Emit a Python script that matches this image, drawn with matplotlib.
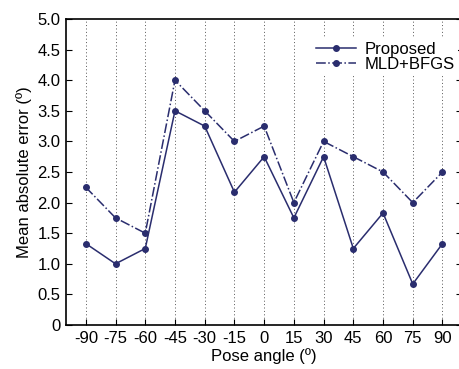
import matplotlib
matplotlib.use("Agg")
import matplotlib.pyplot as plt

plt.rcParams['font.family'] = ['Liberation Sans', 'DejaVu Sans']

angles = [-90, -75, -60, -45, -30, -15, 0, 15, 30, 45, 60, 75, 90]
proposed = [1.33, 1.0, 1.25, 3.5, 3.25, 2.17, 2.75, 1.75, 2.75, 1.25, 1.83, 0.67, 1.33]
mld_bfgs = [2.25, 1.75, 1.5, 4.0, 3.5, 3.0, 3.25, 2.0, 3.0, 2.75, 2.5, 2.0, 2.5]
yticks = [0, 0.5, 1.0, 1.5, 2.0, 2.5, 3.0, 3.5, 4.0, 4.5, 5.0]
ytick_labels = ['0'] + ['%.1f' % v for v in yticks[1:]]

color = '#2a2d6e'
fig = plt.figure(figsize=(4.6, 3.69), dpi=100)
ax = fig.add_axes([66/460, 1 - 325/369, (460 - 66) / 460 + 0.005, (325 - 19) / 369])

ax.plot(angles, proposed, '-', color=color, marker='o', markersize=4, lw=1.1, label='Proposed')
ax.plot(angles, mld_bfgs, '-.', color=color, marker='o', markersize=4, lw=1.1, label='MLD+BFGS')

ax.set_xlim(-100, 100)
ax.set_ylim(0, 5)
ax.set_xticks(angles)
ax.set_xticklabels([str(a) for a in angles])
ax.set_yticks(yticks)
ax.set_yticklabels(ytick_labels)
for a in angles:
    ax.axvline(a, color='#555555', ls=(0, (1, 2.5)), lw=0.7, zorder=0)

ax.tick_params(direction='in', top=False, right=True, labelsize=12, length=4, pad=4)
for s in ax.spines.values():
    s.set_linewidth(1.2)
ax.set_xlabel('Pose angle (º)', fontsize=12, labelpad=2)
ax.set_ylabel('Mean absolute error (º)', fontsize=12, labelpad=4)
leg = ax.legend(loc='upper right', frameon=True, fontsize=12, handlelength=2.4,
                borderaxespad=0.6, labelspacing=0.0, handletextpad=0.5,
                borderpad=0.2, fancybox=False, framealpha=1,
                bbox_to_anchor=(1.015, 0.97))
leg.get_frame().set_edgecolor('none')
leg.get_frame().set_facecolor('white')

fig.savefig('out.png', dpi=100)
